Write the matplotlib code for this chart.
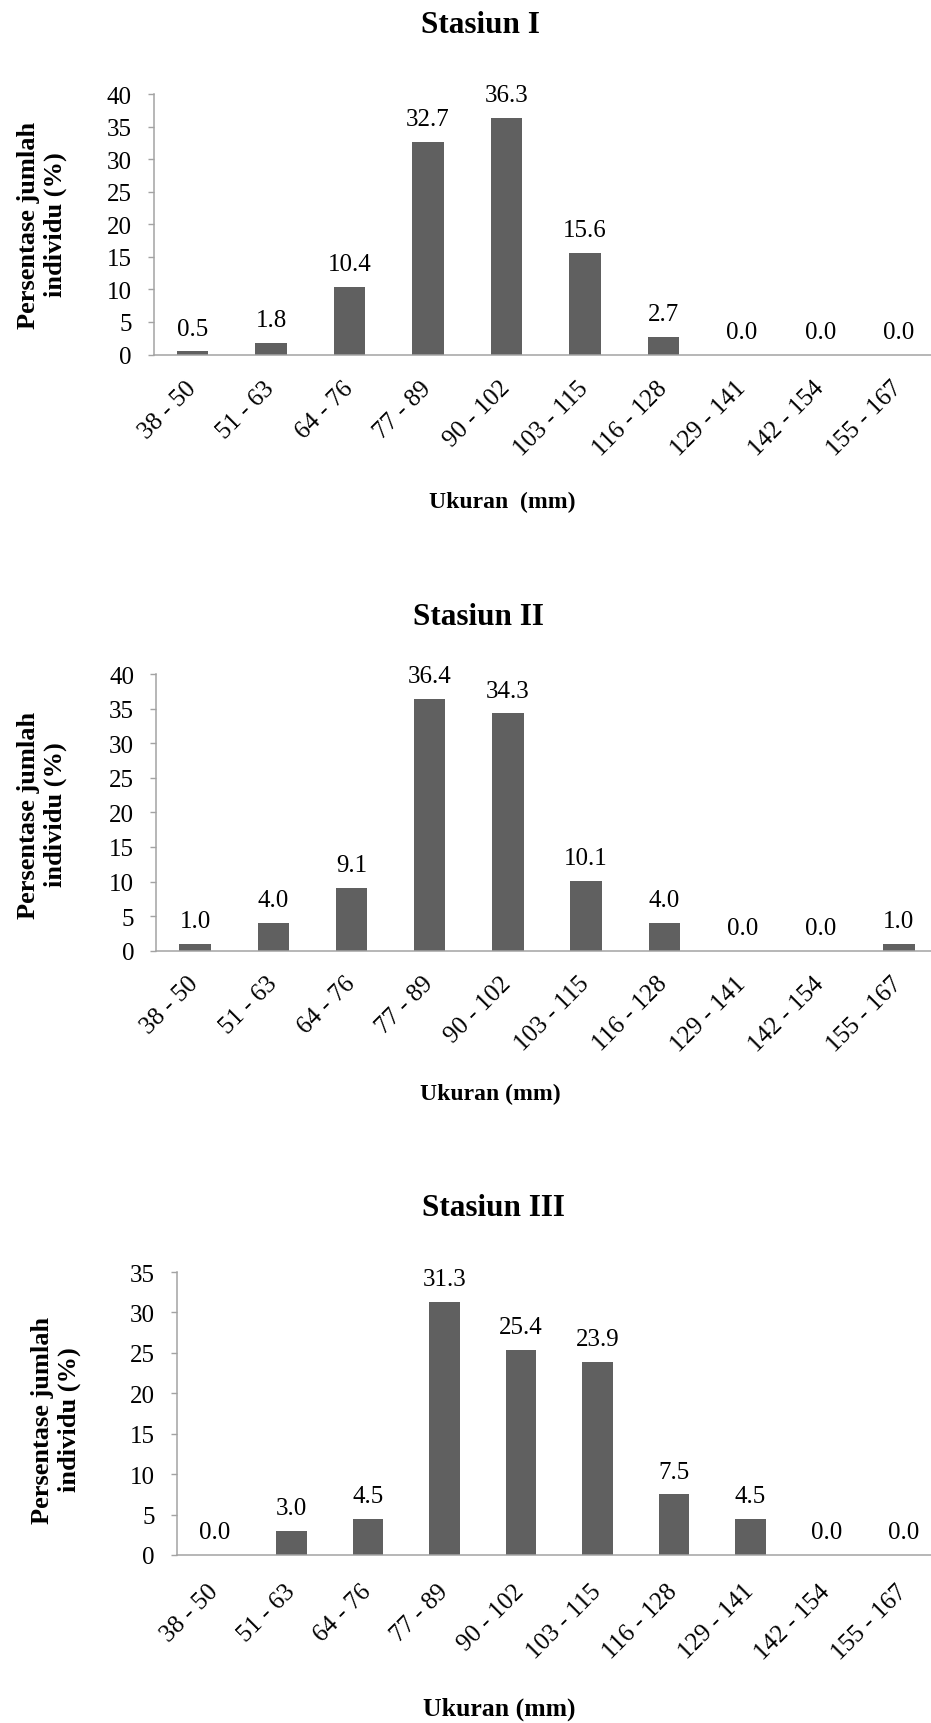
import matplotlib
matplotlib.use("Agg")
import matplotlib.pyplot as plt
import matplotlib.transforms as mtransforms

# --- data -------------------------------------------------------------
size_classes = ["38 - 50", "51 - 63", "64 - 76", "77 - 89", "90 - 102",
                "103 - 115", "116 - 128", "129 - 141", "142 - 154", "155 - 167"]
stasiun_1 = [0.5, 1.8, 10.4, 32.7, 36.3, 15.6, 2.7, 0.0, 0.0, 0.0]
stasiun_2 = [1.0, 4.0, 9.1, 36.4, 34.3, 10.1, 4.0, 0.0, 0.0, 1.0]
stasiun_3 = [0.0, 3.0, 4.5, 31.3, 25.4, 23.9, 7.5, 4.5, 0.0, 0.0]
panel_titles = ["Stasiun I", "Stasiun II", "Stasiun III"]
x_titles = ["Ukuran  (mm)", "Ukuran (mm)", "Ukuran (mm)"]
y_title = "Persentase jumlah\nindividu (%)"
y_limits = [40, 40, 35]

# --- style ------------------------------------------------------------
plt.rcParams["font.family"] = ["Liberation Serif", "DejaVu Serif"]
BAR = "#606060"
AXIS = "#a3a3a3"
W, H = 931, 1724
fig = plt.figure(figsize=(W / 100, H / 100), dpi=100)


def axes_px(left, right, top, bottom):
    return fig.add_axes([left / W, 1 - bottom / H, (right - left) / W, (bottom - top) / H])


def text_px(x, y, s, **kw):
    fig.text(x / W, 1 - y / H, s, **kw)


# pixel layout of each panel: axes box, title, x title, y title, tick-label pad
layout = [
    dict(box=(153.5, 938, 95, 355.5), title=(480, 33), xt=(502, 508, 17),
         yt=(42, 225), pad=21.5),
    dict(box=(156, 938, 675, 951.7), title=(478, 625), xt=(490, 1100, 17),
         yt=(42, 815), pad=21.0),
    dict(box=(176.7, 941.7, 1273, 1556), title=(493, 1216), xt=(499, 1716, 18.5),
         yt=(56, 1420), pad=23.5),
]

series = [stasiun_1, stasiun_2, stasiun_3]
xpos = list(range(len(size_classes)))

for values, title, xtitle, ymax, lay in zip(series, panel_titles, x_titles, y_limits, layout):
    ax = axes_px(*lay["box"])
    ax.bar(xpos, values, width=0.4, color=BAR, zorder=2)
    ax.set_xlim(-0.5, len(size_classes) - 0.5)
    ax.set_ylim(0, ymax)
    ax.set_yticks(range(0, ymax + 1, 5))
    ax.set_xticks(xpos)
    ax.set_xticklabels(size_classes)

    for side in ("top", "right"):
        ax.spines[side].set_visible(False)
    for side in ("left", "bottom"):
        ax.spines[side].set_color(AXIS)
        ax.spines[side].set_linewidth(1.1)

    ax.tick_params(axis="y", direction="out", length=4.2, width=1.0, color=AXIS,
                   labelsize=18, pad=11.5)
    ax.tick_params(axis="x", length=0, labelsize=18, pad=lay["pad"])
    for lbl in ax.get_xticklabels():
        lbl.set_rotation(45)
        lbl.set_ha("right")
        lbl.set_va("center")
        lbl.set_rotation_mode("anchor")

    for xi, v in zip(xpos, values):
        ax.annotate(f"{v:.1f}", (xi, v), xytext=(0, 12), textcoords="offset points",
                    ha="center", va="baseline", fontsize=18)

    text_px(*lay["title"], title, ha="center", va="baseline", fontsize=22.5,
            fontweight="bold")
    xt_x, xt_y, xt_size = lay["xt"]
    text_px(xt_x, xt_y, xtitle, ha="center", va="baseline", fontsize=xt_size,
            fontweight="bold")
    text_px(*lay["yt"], y_title, ha="center", va="center", rotation=90,
            multialignment="center", fontsize=19, fontweight="bold", linespacing=1.2)

fig.savefig("out.png", dpi=100, facecolor="white")
